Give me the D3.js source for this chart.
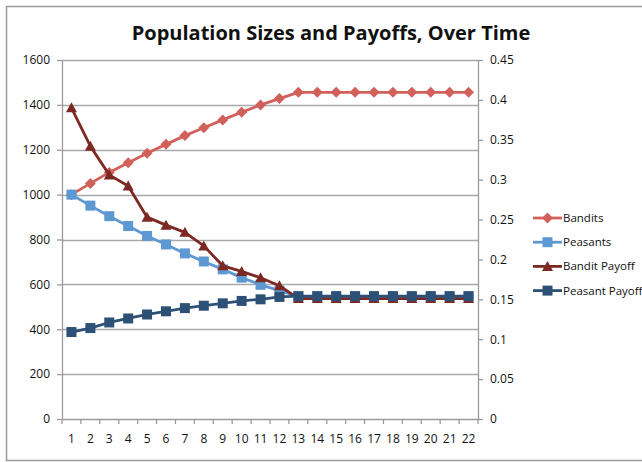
<!DOCTYPE html>
<html>
<head>
<meta charset="utf-8">
<script src="https://cdn.jsdelivr.net/npm/d3@7"></script>
<style>
  html, body { margin: 0; padding: 0; background: #fff; }
  svg { display: block; }
  text { font-family: "Open Sans", "Liberation Sans", sans-serif; fill: #111; }
</style>
</head>
<body>
<svg id="chart" width="642" height="462"></svg>
<script>
// Time periods along the horizontal axis
const periods = [1, 2, 3, 4, 5, 6, 7, 8, 9, 10, 11, 12, 13, 14, 15, 16, 17, 18, 19, 20, 21, 22];

// Population sizes (left axis)
const bandits  = [1000, 1050, 1099, 1142, 1184, 1224, 1263, 1298, 1333, 1367, 1400, 1428, 1456,
                  1456, 1456, 1456, 1456, 1456, 1456, 1456, 1456, 1456];
const peasants = [1000, 951, 904, 860, 816, 778, 738, 702, 667, 630, 598, 572, 546,
                  546, 546, 546, 546, 546, 546, 546, 546, 546];

// Payoffs (right axis)
const banditPayoff  = [0.390, 0.342, 0.306, 0.292, 0.253, 0.243, 0.234, 0.217, 0.192, 0.185, 0.177, 0.167, 0.151,
                       0.151, 0.151, 0.151, 0.151, 0.151, 0.151, 0.151, 0.151, 0.151];
const peasantPayoff = [0.109, 0.114, 0.121, 0.126, 0.131, 0.135, 0.139, 0.142, 0.145, 0.148, 0.150, 0.153, 0.154,
                       0.154, 0.154, 0.154, 0.154, 0.154, 0.154, 0.154, 0.154, 0.154];

// Axis tick values
const leftTicks  = [0, 200, 400, 600, 800, 1000, 1200, 1400, 1600];
const rightTicks = [0, 0.05, 0.1, 0.15, 0.2, 0.25, 0.3, 0.35, 0.4, 0.45];

const titleText = "Population Sizes and Payoffs, Over Time";

const seriesList = [
  { name: "Bandits",        values: bandits,       axis: "left",  color: "#D2605A", marker: "diamond" },
  { name: "Peasants",       values: peasants,      axis: "left",  color: "#5E98D2", marker: "square" },
  { name: "Bandit Payoff",  values: banditPayoff,  axis: "right", color: "#7C2924", marker: "triangle" },
  { name: "Peasant Payoff", values: peasantPayoff, axis: "right", color: "#2D5176", marker: "square" }
];

const svg = d3.select("#chart");
const plot = { left: 62, right: 478, top: 60, bottom: 419 };

const x = d3.scaleBand().domain(periods).range([plot.left, plot.right]).padding(0);
const yL = d3.scaleLinear().domain([0, 1600]).range([plot.bottom, plot.top]);
const yR = d3.scaleLinear().domain([0, 0.45]).range([plot.bottom, plot.top]);

// Outer chart frame
svg.append("rect")
  .attr("x", 6.5).attr("y", 6.5)
  .attr("width", 642).attr("height", 454)
  .attr("fill", "#fff").attr("stroke", "#9a9a9a").attr("stroke-width", 1.5);

// Title
svg.append("text")
  .attr("x", 331).attr("y", 40)
  .attr("text-anchor", "middle")
  .style("font-weight", "bold")
  .style("font-size", "20px")
  .text(titleText);

// Horizontal gridlines at left-axis ticks
svg.append("g")
  .selectAll("line")
  .data(leftTicks.filter(d => d > 0))
  .join("line")
  .attr("x1", plot.left).attr("x2", plot.right)
  .attr("y1", d => Math.round(yL(d)) + 0.5).attr("y2", d => Math.round(yL(d)) + 0.5)
  .attr("stroke", "#a8a8a8").attr("stroke-width", 1.3);

const axisColor = "#9a9a9a";
function styleAxis(g) {
  g.select(".domain").attr("stroke", axisColor).attr("stroke-width", 1.3);
  g.selectAll(".tick line").attr("stroke", axisColor).attr("stroke-width", 1.3);
  g.selectAll(".tick text").attr("fill", "#111").style("font-size", "12px")
    .style("font-family", "\"Open Sans\", sans-serif");
}

// Left axis
svg.append("g")
  .attr("transform", `translate(${plot.left},0)`)
  .call(d3.axisLeft(yL).tickValues(leftTicks).tickSize(5).tickSizeOuter(0).tickPadding(7)
    .tickFormat(d3.format("d")))
  .call(styleAxis);

// Right axis
svg.append("g")
  .attr("transform", `translate(${plot.right},0)`)
  .call(d3.axisRight(yR).tickValues(rightTicks).tickSize(5).tickSizeOuter(0).tickPadding(7)
    .tickFormat(d => String(+d.toFixed(2))))
  .call(styleAxis);

// Bottom axis: ticks sit between categories, labels at category centres
const xAxis = svg.append("g")
  .attr("transform", `translate(0,${plot.bottom})`)
  .call(d3.axisBottom(x).tickSize(0).tickPadding(15))
  .call(styleAxis);
xAxis.selectAll(".tick text").attr("dy", "0.71em");
const bw = x.bandwidth();
xAxis.append("g").selectAll("line")
  .data(periods.concat([periods.length + 1]))
  .join("line")
  .attr("x1", (d, i) => plot.left + i * bw).attr("x2", (d, i) => plot.left + i * bw)
  .attr("y1", 0).attr("y2", 5)
  .attr("stroke", axisColor).attr("stroke-width", 1.3);

// Marker shapes
function markerPath(type) {
  if (type === "diamond") return "M0,-5.5L5.5,0L0,5.5L-5.5,0Z";
  if (type === "triangle") return "M0,-5.5L5.5,4.5L-5.5,4.5Z";
  return "M-5,-5L5,-5L5,5L-5,5Z";
}

const cx = d => x(d) + bw / 2;

seriesList.forEach(s => {
  const y = s.axis === "left" ? yL : yR;
  const pts = periods.map((p, i) => [cx(p), y(s.values[i])]);
  const g = svg.append("g");
  g.append("path")
    .attr("d", d3.line()(pts))
    .attr("fill", "none")
    .attr("stroke", s.color)
    .attr("stroke-width", 2.8)
    .attr("stroke-linejoin", "round");
  g.selectAll("path.mk")
    .data(pts)
    .join("path")
    .attr("class", "mk")
    .attr("transform", d => `translate(${d[0]},${d[1]})`)
    .attr("d", markerPath(s.marker))
    .attr("fill", s.color);
});

// Legend
const legend = svg.append("g");
seriesList.forEach((s, i) => {
  const ly = 218 + i * 24.2;
  const row = legend.append("g").attr("transform", `translate(0,${ly})`);
  row.append("line")
    .attr("x1", 533).attr("x2", 562)
    .attr("y1", 0).attr("y2", 0)
    .attr("stroke", s.color).attr("stroke-width", 2.8);
  row.append("path")
    .attr("transform", "translate(547.5,0)")
    .attr("d", markerPath(s.marker))
    .attr("fill", s.color);
  row.append("text")
    .attr("x", 563).attr("y", 0).attr("dy", "0.35em")
    .style("font-size", "11.5px")
    .text(s.name);
});
</script>
</body>
</html>
